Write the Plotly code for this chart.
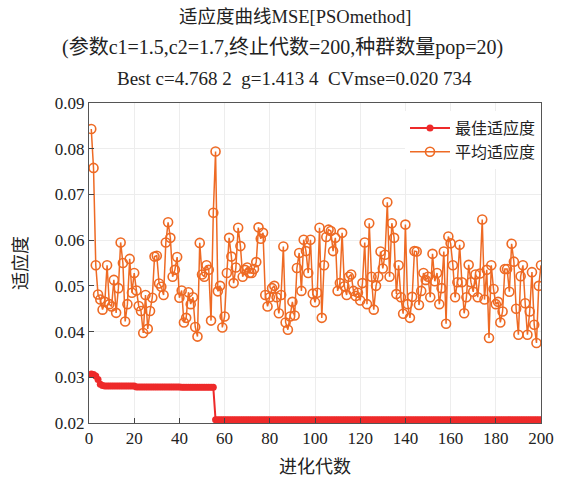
import plotly.graph_objects as go

generations = list(range(1, 201))

avg_fitness = [
    0.0843, 0.0758, 0.0545, 0.0481, 0.0470, 0.0448, 0.0465, 0.0545, 0.0460, 0.0455,
    0.0513, 0.0441, 0.0495, 0.0595, 0.0550, 0.0422, 0.0460, 0.0559, 0.0485, 0.0528,
    0.0490, 0.0456, 0.0445, 0.0397, 0.0480, 0.0406, 0.0445, 0.0474, 0.0564, 0.0566,
    0.0505, 0.0498, 0.0480, 0.0595, 0.0639, 0.0605, 0.0520, 0.0535, 0.0563, 0.0474,
    0.0490, 0.0420, 0.0430, 0.0486, 0.0460, 0.0475, 0.0410, 0.0389, 0.0594, 0.0525,
    0.0520, 0.0545, 0.0535, 0.0424, 0.0660, 0.0794, 0.0488, 0.0500, 0.0409, 0.0433,
    0.0528, 0.0605, 0.0564, 0.0506, 0.0540, 0.0627, 0.0587, 0.0520, 0.0535, 0.0540,
    0.0528, 0.0528, 0.0537, 0.0552, 0.0628, 0.0603, 0.0616, 0.0480, 0.0455, 0.0475,
    0.0495, 0.0500, 0.0475, 0.0440, 0.0480, 0.0586, 0.0420, 0.0404, 0.0433, 0.0465,
    0.0435, 0.0539, 0.0572, 0.0489, 0.0601, 0.0576, 0.0528, 0.0601, 0.0483, 0.0464,
    0.0485, 0.0627, 0.0430, 0.0545, 0.0607, 0.0623, 0.0620, 0.0576, 0.0605, 0.0489,
    0.0506, 0.0616, 0.0499, 0.0480, 0.0520, 0.0525, 0.0489, 0.0478, 0.0485, 0.0468,
    0.0506, 0.0595, 0.0460, 0.0637, 0.0520, 0.0448, 0.0500, 0.0520, 0.0575, 0.0538,
    0.0568, 0.0683, 0.0520, 0.0637, 0.0605, 0.0482, 0.0545, 0.0475, 0.0439, 0.0634,
    0.0460, 0.0430, 0.0476, 0.0576, 0.0575, 0.0458, 0.0489, 0.0528, 0.0513, 0.0520,
    0.0475, 0.0570, 0.0510, 0.0528, 0.0460, 0.0495, 0.0575, 0.0417, 0.0608, 0.0593,
    0.0545, 0.0475, 0.0508, 0.0590, 0.0508, 0.0440, 0.0475, 0.0546, 0.0508, 0.0487,
    0.0525, 0.0475, 0.0527, 0.0645, 0.0470, 0.0535, 0.0386, 0.0545, 0.0493, 0.0460,
    0.0465, 0.0420, 0.0444, 0.0537, 0.0537, 0.0487, 0.0592, 0.0553, 0.0450, 0.0393,
    0.0521, 0.0545, 0.0462, 0.0393, 0.0444, 0.0530, 0.0415, 0.0375, 0.0500, 0.0545,
]

best_fitness = (
    [0.0307, 0.0306, 0.0303, 0.0295, 0.0285, 0.0282]
    + [0.0281] * 14
    + [0.0279] * 20
    + [0.0278] * 15
    + [0.0207] * 145
)

x_ticks = [0, 20, 40, 60, 80, 100, 120, 140, 160, 180, 200]
y_ticks = [0.02, 0.03, 0.04, 0.05, 0.06, 0.07, 0.08, 0.09]

title_lines = [
    "适应度曲线MSE[PSOmethod]",
    "(参数c1=1.5,c2=1.7,终止代数=200,种群数量pop=20)",
    "Best c=4.768 2&nbsp;&nbsp;g=1.413 4&nbsp;&nbsp;CVmse=0.020 734",
]
title_sizes = [18.5, 20, 19]
title_y = [1.268, 1.172, 1.078]
title_x = [0.455, -0.065, 0.455]
title_anchor = ["center", "left", "center"]

FONT = "Liberation Serif, Noto Sans CJK SC, serif"
RED = "#EE2A2A"
ORANGE = "#EE6A24"

fig = go.Figure()
fig.add_trace(go.Scatter(
    x=generations, y=best_fitness, name="最佳适应度",
    mode="lines+markers",
    line=dict(color=RED, width=2),
    marker=dict(color=RED, size=7, symbol="circle"),
))
fig.add_trace(go.Scatter(
    x=generations, y=avg_fitness, name="平均适应度",
    mode="lines+markers",
    line=dict(color=ORANGE, width=1.5),
    marker=dict(color=ORANGE, size=9, symbol="circle-open",
                line=dict(color=ORANGE, width=1.6)),
))

annotations = []
for txt, xp, xa, yp, sz in zip(title_lines, title_x, title_anchor, title_y, title_sizes):
    annotations.append(dict(
        text=txt, x=xp, y=yp, xref="paper", yref="paper",
        xanchor=xa, yanchor="middle", showarrow=False,
        font=dict(family=FONT, size=sz, color="#222"),
    ))

fig.update_layout(
    width=566, height=489,
    margin=dict(l=89, r=19, t=103, b=66),
    paper_bgcolor="white", plot_bgcolor="white",
    font=dict(family=FONT, size=17, color="#222"),
    annotations=annotations,
    showlegend=True,
    legend=dict(
        x=1.0, y=0.975, xanchor="right", yanchor="top",
        bgcolor="white", borderwidth=0,
        font=dict(family=FONT, size=16, color="#222"),
        tracegroupgap=0, itemwidth=40,
    ),
    xaxis=dict(
        range=[0, 200], tickvals=x_ticks, ticktext=[str(v) for v in x_ticks],
        ticks="inside", ticklen=5, tickcolor="#444",
        showline=True, linecolor="#555", linewidth=1, mirror=True,
        showgrid=True, gridcolor="#EDEDED", zeroline=False,
        title=dict(text="进化代数", font=dict(family=FONT, size=18), standoff=12),
        tickfont=dict(family=FONT, size=17),
    ),
    yaxis=dict(
        range=[0.02, 0.09], tickvals=y_ticks, ticktext=[f"{v:.2f}" for v in y_ticks],
        ticks="inside", ticklen=5, tickcolor="#444",
        showline=True, linecolor="#555", linewidth=1, mirror=True,
        showgrid=True, gridcolor="#EDEDED", zeroline=False,
        title=dict(text="适应度", font=dict(family=FONT, size=18), standoff=22),
        tickfont=dict(family=FONT, size=17),
    ),
)

fig.write_html("out.html")
